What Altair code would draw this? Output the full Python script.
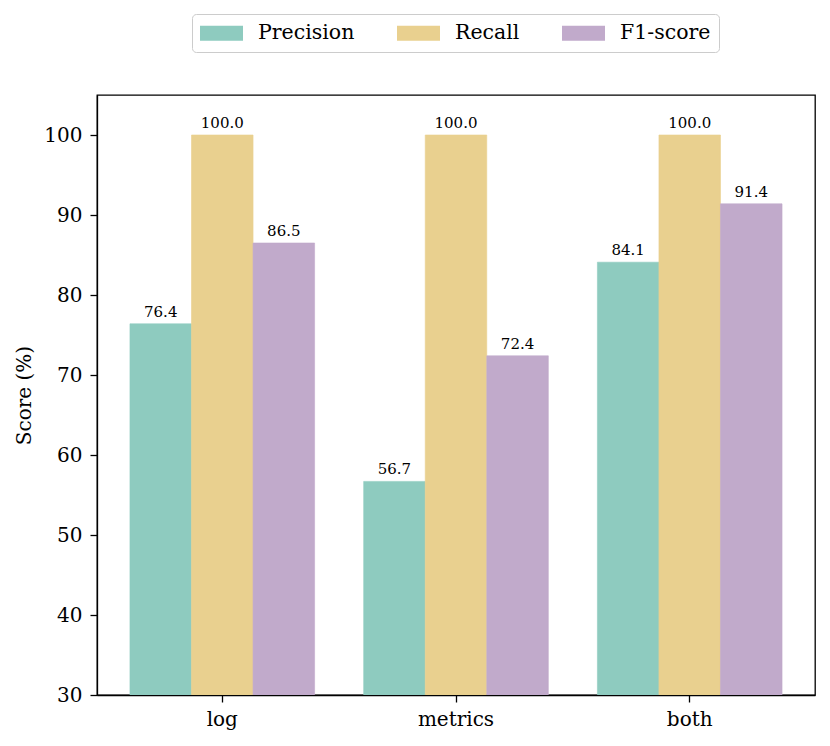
import altair as alt
import pandas as pd

categories = ["log", "metrics", "both"]
metrics = ["Precision", "Recall", "F1-score"]
precision = [76.4, 56.7, 84.1]
recall = [100.0, 100.0, 100.0]
f1 = [86.5, 72.4, 91.4]
colors = ["#8ecbbf", "#e9d08f", "#c1aacb"]
y_ticks = [30, 40, 50, 60, 70, 80, 90, 100]

rows = []
for i, c in enumerate(categories):
    for m, vals in zip(metrics, [precision, recall, f1]):
        rows.append({"cat": c, "metric": m, "value": vals[i]})
df = pd.DataFrame(rows)

FONT = "DejaVu Serif"

x = alt.X("cat:N", sort=categories, title=None,
          scale=alt.Scale(paddingInner=0.21, paddingOuter=0.141),
          axis=alt.Axis(labelAngle=0, labelFont=FONT, labelFontSize=20, labelColor="black",
                        tickSize=7, tickColor="black", tickWidth=1.3, labelPadding=7,
                        domainColor="black", domainWidth=1.3))
xoff = alt.XOffset("metric:N", sort=metrics,
                   scale=alt.Scale(domain=metrics, paddingInner=0, paddingOuter=0))
yscale = alt.Scale(domain=[30, 105], zero=False, nice=False)
y = alt.Y("value:Q", title="Score (%)", scale=yscale,
          axis=alt.Axis(values=y_ticks, grid=False, labelFont=FONT, labelFontSize=20,
                        labelColor="black", tickSize=7, tickColor="black", tickWidth=1.3,
                        labelPadding=8, domainColor="black", domainWidth=1.3,
                        titleFont=FONT, titleFontSize=20, titleFontWeight="normal",
                        titleColor="black", titlePadding=9))

bars = alt.Chart(df).mark_bar(clip=True, strokeWidth=0.6).encode(
    x=x, xOffset=xoff, y=y, y2=alt.datum(30),
    color=alt.Color("metric:N", sort=metrics,
                    scale=alt.Scale(domain=metrics, range=colors),
                    legend=alt.Legend(title=None, orient="none", direction="horizontal",
                                      legendX=95, legendY=-81,
                                      labelFont=FONT, labelFontSize=20.5, labelColor="black",
                                      labelOffset=36, columnPadding=42,
                                      symbolType="M-1,-0.68H2.909V0.68H-1Z", symbolSize=484,
                                      symbolStrokeWidth=0, symbolOpacity=1,
                                      padding=8, strokeColor="#cccccc", cornerRadius=4,
                                      fillColor="white")),
    stroke=alt.Stroke("metric:N", sort=metrics,
                      scale=alt.Scale(domain=metrics, range=colors), legend=None),
)

labels = alt.Chart(df).mark_text(font=FONT, fontSize=15, color="black", dy=-7,
                                 baseline="alphabetic").encode(
    x=x, xOffset=xoff, y=alt.Y("value:Q", scale=yscale),
    text=alt.Text("value:Q", format=".1f"),
)

chart = alt.layer(bars, labels).properties(
    width=718, height=600,
    autosize=alt.AutoSizeParams(type="none"),
    padding={"left": 89, "top": 87, "right": 7, "bottom": 43},
    background="white",
).configure_view(stroke="black", strokeWidth=1.3)

chart.save("out.html", embed_options={"renderer": "svg", "actions": False})
